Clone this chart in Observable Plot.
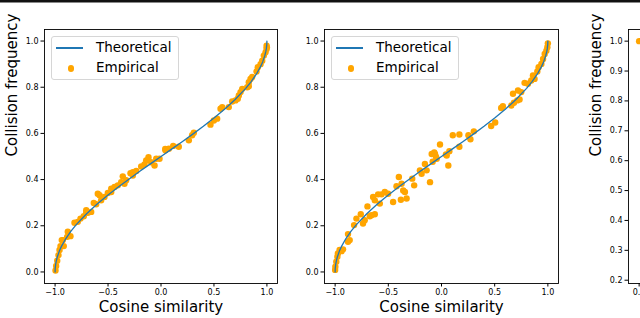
<!DOCTYPE html>
<html>
<head>
<meta charset="utf-8">
<script src="https://cdn.jsdelivr.net/npm/d3@7"></script>
<script src="https://cdn.jsdelivr.net/npm/@observablehq/plot@0.6"></script>
<style>
  html, body { margin: 0; padding: 0; background: #fff; }
  #wrap { position: relative; width: 640px; height: 318px; overflow: hidden; background: #fff; font-family: "DejaVu Sans", sans-serif; }
  .topbar { position: absolute; left: 0; top: 0; width: 640px; height: 2px; background: #111; border-bottom: 1px solid #888; }
  .panel { position: absolute; top: 0; }
  .legend { position: absolute; border: 1px solid #d6d6d6; border-radius: 3px; background: rgba(255,255,255,0.85); box-sizing: border-box; }
  .legend .row { position: absolute; font-size: 13.5px; color: #000; white-space: nowrap; line-height: 1; }
  .legend .ln { position: absolute; height: 1.6px; background: #1f77b4; }
  .legend .dt { position: absolute; width: 6.5px; height: 6.5px; border-radius: 50%; background: orange; }
</style>
</head>
<body>
<div id="wrap"><div class="topbar"></div></div>
<script>
// ---- data ----
const xTicks = [-1, -0.5, 0, 0.5, 1];
const xTicks3 = [0, 0.5, 1];
const yTicks = [0, 0.2, 0.4, 0.6, 0.8, 1.0];
const yTicks3 = [0.2, 0.3, 0.4, 0.5, 0.6, 0.7, 0.8, 0.9, 1.0];
const xLabel = "Cosine similarity";
const yLabel = "Collision frequency";
const legendLabels = ["Theoretical", "Empirical"];

const theoryX = [-1,-0.999,-0.995,-0.99,-0.98,-0.96,-0.94,-0.9,-0.85,-0.8,-0.7,-0.6,-0.5,-0.4,-0.3,-0.2,-0.1,0,0.1,0.2,0.3,0.4,0.5,0.6,0.7,0.8,0.85,0.9,0.94,0.96,0.98,0.99,0.995,0.999,1];
const theoryY = [0,0.0142,0.0318,0.045,0.0638,0.0903,0.1108,0.1436,0.1766,0.2048,0.2532,0.2952,0.3333,0.369,0.403,0.4359,0.4681,0.5,0.5319,0.5641,0.597,0.631,0.6667,0.7048,0.7468,0.7952,0.8234,0.8564,0.8892,0.9097,0.9362,0.955,0.9682,0.9858,1];

const emp1X = [-0.996,-0.99,-0.98,-0.968,-0.958,-0.949,-0.918,-0.927,-0.937,-0.886,-0.855,-0.88,-0.817,-0.786,-0.76,-0.729,-0.706,-0.706,-0.69,-0.659,-0.635,-0.612,-0.597,-0.58,-0.565,-0.534,-0.502,-0.47,-0.47,-0.439,-0.408,-0.376,-0.361,-0.345,-0.329,-0.288,-0.266,-0.266,-0.234,-0.187,-0.156,-0.14,-0.118,-0.093,-0.061,-0.045,-0.014,
  0.04,0.042,0.074,0.115,0.168,0.263,0.294,0.31,0.467,0.499,0.53,0.562,0.578,0.64,0.672,0.703,0.725,0.735,0.751,0.767,0.814,0.829,0.829,0.845,0.861,0.902,0.914,0.94,0.956,0.971,0.987,0.997,0.997,1.0];
const emp1Y = [0.006,0.026,0.049,0.073,0.095,0.112,0.112,0.138,0.138,0.152,0.155,0.174,0.213,0.217,0.231,0.241,0.267,0.256,0.256,0.26,0.299,0.293,0.339,0.332,0.31,0.325,0.342,0.346,0.361,0.368,0.375,0.389,0.414,0.382,0.397,0.428,0.432,0.418,0.437,0.457,0.466,0.483,0.497,0.475,0.461,0.49,0.49,
  0.533,0.527,0.534,0.546,0.542,0.57,0.592,0.603,0.638,0.656,0.664,0.707,0.714,0.714,0.738,0.743,0.75,0.764,0.779,0.793,0.8,0.822,0.804,0.836,0.844,0.868,0.887,0.9,0.915,0.937,0.951,0.966,0.98,0.973];

const emp2X = [-1.0,-0.998,-0.989,-0.979,-0.974,-0.958,-0.926,-0.94,-0.879,-0.863,-0.879,-0.822,-0.8,-0.759,-0.738,-0.722,-0.696,-0.674,-0.659,-0.627,-0.643,-0.627,-0.596,-0.58,-0.564,-0.533,-0.502,-0.455,-0.423,-0.401,-0.375,-0.36,-0.344,-0.328,-0.382,-0.275,-0.257,-0.187,-0.203,-0.156,-0.14,-0.108,-0.092,-0.061,-0.014,-0.045,0.064,0.049,
  -0.083,-0.068,-0.052,0.042,0.074,0.106,0.168,0.168,0.253,0.272,0.304,0.467,0.505,0.561,0.577,0.656,0.681,0.712,0.734,0.672,0.719,0.75,0.781,0.813,0.844,0.86,0.875,0.901,0.913,0.939,0.955,0.97,0.986,0.995,1.0];
const emp2Y = [0.009,0.023,0.044,0.066,0.08,0.095,0.098,0.09,0.131,0.138,0.164,0.203,0.231,0.25,0.21,0.224,0.284,0.241,0.246,0.25,0.325,0.31,0.336,0.296,0.336,0.346,0.339,0.303,0.371,0.411,0.382,0.353,0.346,0.318,0.313,0.404,0.375,0.425,0.44,0.468,0.44,0.389,0.511,0.511,0.552,0.49,0.461,0.504,
  0.477,0.517,0.499,0.509,0.523,0.592,0.595,0.542,0.592,0.575,0.609,0.632,0.647,0.71,0.718,0.721,0.733,0.743,0.747,0.772,0.786,0.779,0.819,0.815,0.829,0.851,0.836,0.868,0.887,0.901,0.922,0.944,0.958,0.973,0.99];

const emp3X = [0.0];
const emp3Y = [1.0];

// ---- helpers ----
const zip = (xs, ys) => xs.map((x, i) => ({x, y: ys[i]}));
const theory = zip(theoryX, theoryY);
const FONT = "DejaVu Sans";

function panel({left, width, marginLeft, marginRight, xDomain, yDomain, xt, yt, emp, showTheory, showYLabel}) {
  const marks = [
    Plot.frame({stroke: "black", strokeWidth: 0.9}),
    Plot.axisX({ticks: xt, tickFormat: d3.format(".1f"), tickSize: 3.5, tickPadding: 2.5, fontSize: 8, label: null}),
    Plot.axisY({ticks: yt, tickFormat: d3.format(".1f"), tickSize: 3.5, tickPadding: 2.5, fontSize: 8, label: null}),
    Plot.dot(emp, {x: "x", y: "y", r: 3.2, fill: "orange", stroke: "none"})
  ];
  if (showTheory) marks.push(Plot.line(theory, {x: "x", y: "y", stroke: "#1f77b4", strokeWidth: 1.3}));
  marks.push(Plot.text([xLabel], {text: d => d, frameAnchor: "bottom", lineAnchor: "middle", dy: 24, fontSize: 15, fill: "black"}));
  if (showYLabel) marks.push(Plot.text([yLabel], {text: d => d, frameAnchor: "left", lineAnchor: "middle", dx: -32, rotate: -90, fontSize: 15, fill: "black"}));
  const svg = Plot.plot({
    width, height: 318,
    marginLeft, marginRight, marginTop: 29, marginBottom: 35,
    x: {domain: xDomain},
    y: {domain: yDomain},
    style: {fontFamily: FONT, fontSize: "8px", color: "black", background: "transparent", overflow: "visible"},
    marks
  });
  svg.classList.add("panel");
  svg.style.left = left + "px";
  document.getElementById("wrap").appendChild(svg);
}

function legend(left) {
  const wrap = document.getElementById("wrap");
  const box = document.createElement("div");
  box.className = "legend";
  Object.assign(box.style, {left: left + "px", top: "36px", width: "128px", height: "44px"});
  box.innerHTML = `
    <div class="ln" style="left:4px; top:10px; width:27px;"></div>
    <div class="row" style="left:44px; top:4px;">${legendLabels[0]}</div>
    <div class="dt" style="left:15.5px; top:28px;"></div>
    <div class="row" style="left:44px; top:24px;">${legendLabels[1]}</div>`;
  wrap.appendChild(box);
}

panel({left: 0, width: 290, marginLeft: 44, marginRight: 13, xDomain: [-1.1, 1.1], yDomain: [-0.05, 1.05], xt: xTicks, yt: yTicks, emp: zip(emp1X, emp1Y), showTheory: true, showYLabel: true});
panel({left: 290, width: 290, marginLeft: 34, marginRight: 22, xDomain: [-1.1, 1.1], yDomain: [-0.05, 1.05], xt: xTicks, yt: yTicks, emp: zip(emp2X, emp2Y), showTheory: true, showYLabel: false});
panel({left: 560, width: 312, marginLeft: 68, marginRight: 10, xDomain: [-0.05, 1.05], yDomain: [0.189, 1.039], xt: xTicks3, yt: yTicks3, emp: zip(emp3X, emp3Y), showTheory: false, showYLabel: true});
legend(51);
legend(331);
</script>
</body>
</html>
